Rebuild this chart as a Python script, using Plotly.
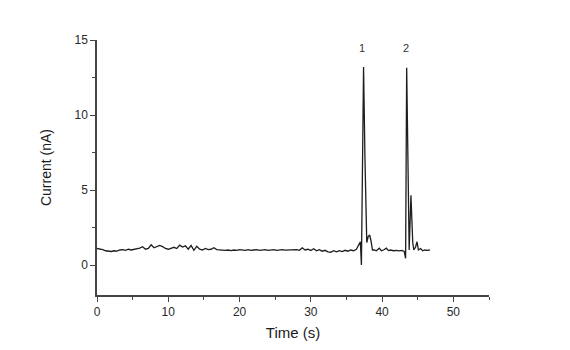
import plotly.graph_objects as go

time_s = [
    0.0, 0.4, 0.8, 1.2, 1.6, 2.0, 2.4, 2.8, 3.2, 3.6, 4.0, 4.4, 4.8, 5.2, 5.6, 6.0,
    6.4, 6.8, 7.2, 7.6, 8.0, 8.4, 8.8, 9.2, 9.6, 10.0, 10.4, 10.8, 11.2, 11.6, 12.0,
    12.4, 12.8, 13.2, 13.6, 14.0, 14.4, 14.8, 15.2, 15.6, 16.0, 16.4, 16.8, 17.2,
    17.6, 18.0, 18.4, 18.8, 19.2, 19.6, 20.0, 20.4, 20.8, 21.2, 21.6, 22.0, 22.4,
    22.8, 23.2, 23.6, 24.0, 24.4, 24.8, 25.2, 25.6, 26.0, 26.4, 26.8, 27.2, 27.6,
    28.0, 28.4, 28.8, 29.2, 29.6, 30.0, 30.4, 30.8, 31.2, 31.6, 32.0, 32.4, 32.8,
    33.2, 33.6, 34.0, 34.4, 34.8, 35.2, 35.6, 36.0, 36.4,
    36.7, 36.95, 37.1, 37.25, 37.4, 37.6, 37.85, 38.05, 38.25, 38.45, 38.65, 38.9,
    39.2, 39.6, 39.9, 40.2, 40.6, 40.9, 41.2, 41.6, 42.0, 42.4, 42.8, 43.1, 43.3,
    43.45, 43.6, 43.8, 44.05, 44.3, 44.45, 44.7, 44.9, 45.1, 45.4, 45.7, 46.0,
    46.3, 46.7,
]

current_na = [
    1.10, 1.08, 1.02, 0.95, 0.92, 0.90, 0.95, 0.92, 1.00, 1.02, 0.98, 1.05, 1.00,
    1.04, 1.08, 1.12, 1.22, 1.05, 1.10, 1.35, 1.15, 1.20, 1.30, 1.22, 1.10, 1.05,
    1.12, 1.18, 1.10, 1.32, 1.20, 1.28, 1.05, 1.30, 0.98, 1.25, 1.05, 1.00, 1.10,
    1.02, 1.05, 1.15, 1.03, 1.00, 1.02, 0.98, 1.00, 0.96, 1.00, 0.98, 1.02, 1.00,
    0.98, 1.02, 0.97, 1.00, 1.02, 0.98, 1.00, 1.03, 0.98, 1.00, 1.02, 0.97, 1.00,
    1.03, 0.99, 1.00, 0.97, 1.01, 1.02, 0.98, 1.15, 1.00, 1.05, 0.97, 1.08, 0.95,
    1.02, 0.92, 0.98, 0.88, 0.85, 0.95, 0.88, 0.96, 0.90, 0.98, 0.92, 1.00, 0.95,
    1.05,
    1.30, 1.55, 0.00, 6.00, 13.20, 7.00, 1.50, 1.90, 2.00, 1.60, 1.00, 1.00,
    0.95, 1.12, 0.95, 1.00, 1.12, 0.96, 1.00, 0.95, 0.98, 0.94, 0.97, 0.90, 0.45,
    13.15, 8.00, 1.00, 4.65, 1.50, 1.00, 1.20, 1.55, 1.00, 1.10, 0.95, 1.00,
    0.97, 1.00,
]

peak_labels = ["1", "2"]
peak_label_x = [37.2, 43.3]
peak_label_y = [14.45, 14.45]

FONT = "Liberation Sans, Arial"

fig = go.Figure()
fig.add_trace(go.Scatter(
    x=time_s, y=current_na, mode="lines",
    line=dict(color="#1e1e1e", width=1.3),
    showlegend=False, hoverinfo="skip",
))

for lab, lx, ly in zip(peak_labels, peak_label_x, peak_label_y):
    fig.add_annotation(x=lx, y=ly, text=lab, showarrow=False,
                       font=dict(family=FONT, size=11, color="#333333"))

axis_common = dict(
    showline=True, linecolor="#444444", linewidth=1.5,
    ticks="outside", ticklen=5, tickwidth=1.3, tickcolor="#444444",
    showgrid=False, zeroline=False,
    tickfont=dict(family=FONT, size=12, color="#2a2a2a"),
)

fig.update_layout(
    width=570, height=350,
    margin=dict(l=97, r=81, t=40, b=55),
    paper_bgcolor="white", plot_bgcolor="white",
    xaxis=dict(range=[0, 55], tickvals=[0, 10, 20, 30, 40, 50],
               minor=dict(tickvals=[5, 15, 25, 35, 45, 55], ticks="outside", ticklen=3,
                          tickcolor="#444444", tickwidth=1.2),
               title=dict(text="Time (s)", font=dict(family=FONT, size=15, color="#1a1a1a"),
                          standoff=9),
               **axis_common),
    yaxis=dict(range=[-2, 15], tickvals=[0, 5, 10, 15],
               minor=dict(tickvals=[-2.5, 2.5, 7.5, 12.5], ticks="outside", ticklen=3,
                          tickcolor="#444444", tickwidth=1.2),
               title=dict(text="Current (nA)", font=dict(family=FONT, size=14, color="#1a1a1a"),
                          standoff=20),
               **axis_common),
)

fig.write_html("out.html")
